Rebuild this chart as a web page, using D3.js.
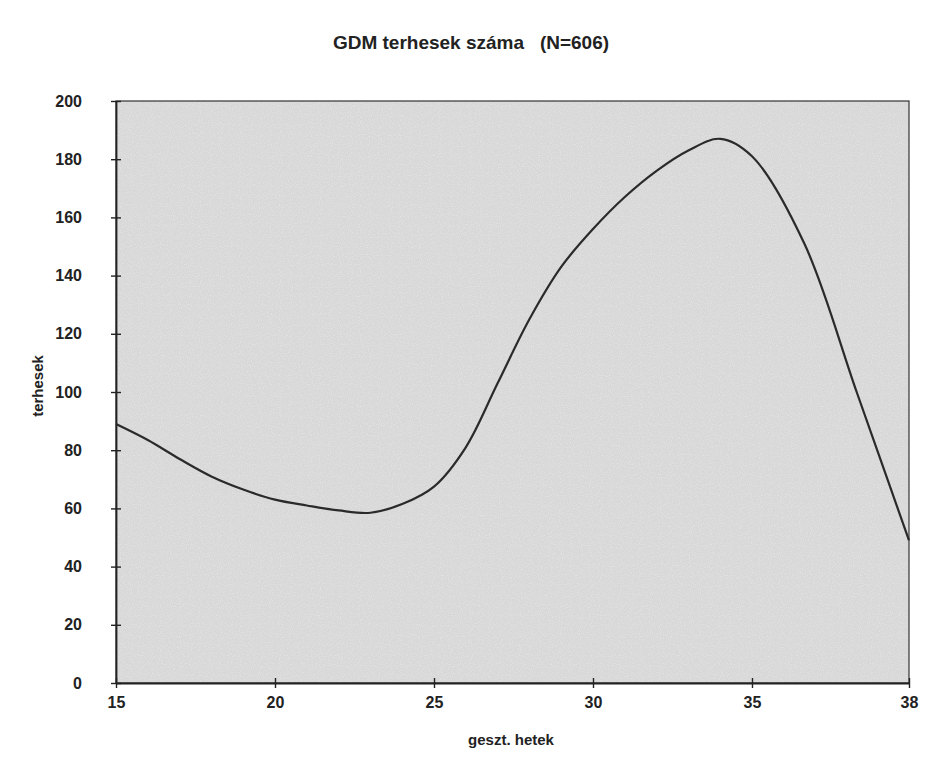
<!DOCTYPE html>
<html>
<head>
<meta charset="utf-8">
<script src="https://cdn.jsdelivr.net/npm/d3@7"></script>
<style>
  body { margin: 0; background: #fff; }
  text { font-family: "Liberation Sans", Arial, sans-serif; fill: #222; }
</style>
</head>
<body>
<svg id="chart" width="936" height="758"></svg>
<script>
// weeks of gestation and number of GDM pregnancies
const weeks = [15, 16, 17, 18, 19, 20, 21, 22, 23, 24, 25, 26, 27, 28, 29, 30, 31, 32, 33, 34, 35, 36, 37, 38];
const counts = [89, 83.5, 77, 71, 66.5, 63, 61, 59.3, 58.5, 61.5, 67.5, 81, 103, 125, 143, 156, 167, 176, 183, 187, 181, 151, 100, 49];
const xTicks = [15, 20, 25, 30, 35, 38];
const yTicks = [0, 20, 40, 60, 80, 100, 120, 140, 160, 180, 200];

const m = {top: 101, right: 27, bottom: 75, left: 116};
const w = 936 - m.left - m.right;
const h = 758 - m.top - m.bottom;

const svg = d3.select('#chart');

// speckled scan texture for the plot area
const defs = svg.append('defs');
const f = defs.append('filter').attr('id', 'grain')
    .attr('x', 0).attr('y', 0).attr('width', 1).attr('height', 1);
f.append('feTurbulence')
    .attr('type', 'fractalNoise')
    .attr('baseFrequency', 0.9)
    .attr('numOctaves', 1)
    .attr('seed', 3);
f.append('feColorMatrix')
    .attr('values', '0 0 0 0 1  0 0 0 0 1  0 0 0 0 1  0 0 0 1.6 -0.75');
f.append('feComposite').attr('in2', 'SourceGraphic').attr('operator', 'in');

const g = svg.append('g')
    .attr('transform', 'translate(' + m.left + ',' + m.top + ')');

// the original axis squeezes weeks 15-35 and stretches 35-38
const x = d3.scaleLinear()
    .domain([15, 35, 38])
    .range([0, w * 0.802, w]);

const y = d3.scaleLinear()
    .domain([0, 200])
    .range([h, 0]);

g.append('rect')
    .attr('width', w)
    .attr('height', h)
    .attr('fill', '#d8d8d8');

g.append('rect')
    .attr('width', w)
    .attr('height', h)
    .attr('fill', '#fff')
    .attr('filter', 'url(#grain)')
    .attr('opacity', 0.55);

g.append('rect')
    .attr('width', w)
    .attr('height', h)
    .attr('fill', 'none')
    .attr('stroke', '#333')
    .attr('stroke-width', 1.2);

const xAxis = d3.axisBottom(x)
    .tickValues(xTicks)
    .tickSizeInner(5)
    .tickSizeOuter(0)
    .tickPadding(9);

const yAxis = d3.axisLeft(y)
    .tickValues(yTicks)
    .tickSizeInner(5)
    .tickSizeOuter(0)
    .tickPadding(29);

const gx = g.append('g')
    .attr('transform', 'translate(0,' + h + ')')
    .call(xAxis);
gx.selectAll('.tick line').attr('y1', -5);

const gy = g.append('g')
    .call(yAxis);
gy.selectAll('.tick line').attr('x1', 5);

[gx, gy].forEach(a => {
  a.select('.domain').attr('stroke', '#222').attr('stroke-width', 1.8);
  a.selectAll('.tick line').attr('stroke', '#222').attr('stroke-width', 1.4);
  a.selectAll('.tick text')
      .style('font-size', '16px')
      .style('font-weight', 'bold')
      .attr('fill', '#222');
});

const line = d3.line()
    .x((d, i) => x(weeks[i]))
    .y(d => y(d))
    .curve(d3.curveCatmullRom.alpha(0.5));

g.append('path')
    .datum(counts)
    .attr('fill', 'none')
    .attr('stroke', '#2a2a2a')
    .attr('stroke-width', 2.2)
    .attr('d', line);

svg.append('text')
    .attr('x', 471)
    .attr('y', 49)
    .attr('text-anchor', 'middle')
    .style('font-size', '19px')
    .style('font-weight', 'bold')
    .text('GDM terhesek száma\u00a0\u00a0 (N=606)');

svg.append('text')
    .attr('x', 511)
    .attr('y', 745)
    .attr('text-anchor', 'middle')
    .style('font-size', '15px')
    .style('font-weight', 'bold')
    .text('geszt. hetek');

svg.append('text')
    .attr('transform', 'translate(43,386) rotate(-90)')
    .attr('text-anchor', 'middle')
    .style('font-size', '15px')
    .style('font-weight', 'bold')
    .text('terhesek');
</script>
</body>
</html>
